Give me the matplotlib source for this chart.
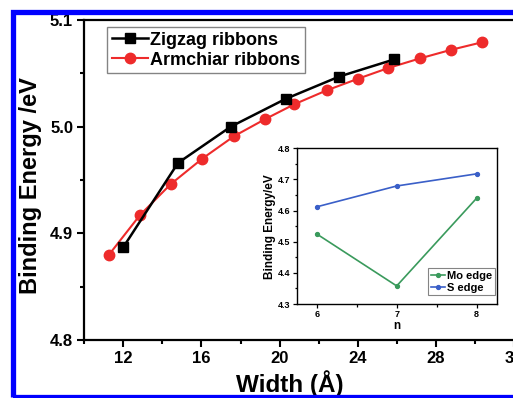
import matplotlib
matplotlib.use("Agg")
import matplotlib.pyplot as plt
from matplotlib.patches import Rectangle
from matplotlib.ticker import MultipleLocator, FormatStrFormatter

plt.rcParams['font.family'] = ['Liberation Sans', 'DejaVu Sans']
plt.rcParams['font.weight'] = 'bold'

# Main data
zig_x = [12.0, 14.8, 17.5, 20.3, 23.05, 25.85]
zig_y = [4.887, 4.966, 5.000, 5.026, 5.047, 5.063]
arm_x = [11.27, 12.85, 14.42, 16.04, 17.66, 19.25, 20.75, 22.40, 24.02, 25.56, 27.18, 28.76, 30.33]
arm_y = [4.880, 4.917, 4.946, 4.970, 4.991, 5.007, 5.021, 5.034, 5.045, 5.055, 5.064, 5.072, 5.079]
main_labels = ["Zigzag ribbons", "Armchiar ribbons"]

# Inset data
n_vals = [6, 7, 8]
mo_edge = [4.525, 4.358, 4.640]
s_edge = [4.612, 4.679, 4.718]
inset_labels = ["Mo edge", "S edge"]

W, H = 513, 398
fig = plt.figure(figsize=(W / 100, H / 100), dpi=100)

ax = fig.add_axes([84.2 / W, (H - 340) / H, 430 / W, 320 / H])
ax.plot(zig_x, zig_y, color='black', lw=1.8, marker='s', ms=6.5, label=main_labels[0], zorder=3)
ax.plot(arm_x, arm_y, color='#ee2b2b', lw=1.5, marker='o', ms=7.5, label=main_labels[1], zorder=2)
ax.set_xlim(10, 32)
ax.set_ylim(4.8, 5.1)
ax.xaxis.set_major_locator(MultipleLocator(4))
ax.xaxis.set_minor_locator(MultipleLocator(2))
ax.yaxis.set_major_locator(MultipleLocator(0.1))
ax.yaxis.set_minor_locator(MultipleLocator(0.05))
ax.yaxis.set_major_formatter(FormatStrFormatter('%.1f'))
ax.tick_params(which='both', direction='out', top=False, right=False, width=1.5)
ax.tick_params(which='major', length=5, labelsize=12, pad=3)
ax.tick_params(which='minor', length=3)
for s in ax.spines.values():
    s.set_linewidth(1.6)
for lab in ax.get_xticklabels() + ax.get_yticklabels():
    lab.set_fontweight('bold')
ax.set_xlabel("Width (Å)", fontsize=17.5, fontweight='bold')
ax.xaxis.set_label_coords(0.479, -0.095)
ax.set_ylabel("Binding Energy /eV", fontsize=17, fontweight='bold')
ax.yaxis.set_label_coords(-0.098, 0.484)
leg = ax.legend(loc='upper left', bbox_to_anchor=(0.053, 0.978), fancybox=False,
                edgecolor='#666666', fontsize=13, handlelength=2.0, borderpad=0.25,
                labelspacing=0.17, handletextpad=0.15, borderaxespad=0)
leg.get_frame().set_linewidth(1.0)
for t in leg.get_texts():
    t.set_fontweight('bold')

# Inset
ax2 = fig.add_axes([296.7 / W, (H - 304) / H, 200 / W, 155.7 / H])
ax2.plot(n_vals, mo_edge, color='#3a9a5c', lw=1.2, marker='o', ms=2.8, label=inset_labels[0])
ax2.plot(n_vals, s_edge, color='#3a5fc8', lw=1.2, marker='o', ms=2.8, label=inset_labels[1])
ax2.set_xlim(5.75, 8.25)
ax2.set_ylim(4.3, 4.8)
ax2.xaxis.set_major_locator(MultipleLocator(1))
ax2.xaxis.set_minor_locator(MultipleLocator(0.5))
ax2.yaxis.set_major_locator(MultipleLocator(0.1))
ax2.yaxis.set_minor_locator(MultipleLocator(0.05))
ax2.yaxis.set_major_formatter(FormatStrFormatter('%.1f'))
ax2.tick_params(which='both', direction='out', top=False, right=False, width=0.9)
ax2.tick_params(which='major', length=3, labelsize=6.5, pad=1.5)
ax2.tick_params(which='minor', length=1.8)
for s in ax2.spines.values():
    s.set_linewidth(1.0)
for lab in ax2.get_xticklabels() + ax2.get_yticklabels():
    lab.set_fontweight('bold')
ax2.set_xlabel("n", fontsize=8.5, fontweight='bold', labelpad=0.5)
ax2.set_ylabel("Binding Energy/eV", fontsize=8.5, fontweight='bold', labelpad=1.5)
leg2 = ax2.legend(loc='lower right', bbox_to_anchor=(0.99, 0.058), fancybox=False,
                  edgecolor='#666666', fontsize=8, handlelength=1.3, borderpad=0.2,
                  labelspacing=0.2, handletextpad=0.2, borderaxespad=0)
leg2.get_frame().set_linewidth(0.8)
for t in leg2.get_texts():
    t.set_fontweight('bold')

# Blue border frame
fig.add_artist(Rectangle((12.5 / W, (H - 396.5) / H), 540 / W, (396.5 - 12) / H,
                         transform=fig.transFigure, fill=False, edgecolor='#0000ff',
                         lw=3.8, zorder=10))

fig.savefig("out.png", dpi=100)
